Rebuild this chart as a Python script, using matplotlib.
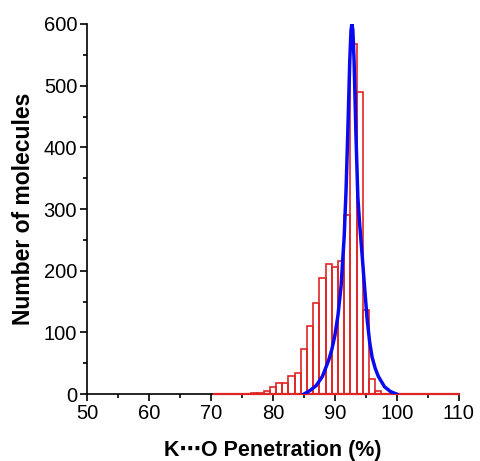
import matplotlib
matplotlib.use("Agg")
import matplotlib.pyplot as plt
from matplotlib.ticker import MultipleLocator

# histogram: bin centres (1 % wide bins) and counts
bin_centers = list(range(71, 111))
counts = [0, 0, 0, 0, 0, 0, 2, 2, 5, 12,
          18, 18, 30, 34, 73, 110, 147, 189, 211, 206,
          216, 290, 567, 490, 137, 24, 5, 1, 0, 0,
          0, 0, 0, 0, 0, 0, 0, 0, 0, 0]

# fitted peak curve
fit_x = [85, 86, 87, 88, 89, 89.5, 90, 90.5, 91, 91.5, 91.8, 92.1, 92.4, 92.6,
         92.75, 92.9, 93.1, 93.4, 93.7, 94.0, 94.4, 94.8, 95.2, 95.6, 96,
         96.5, 97, 98, 99, 100]
fit_y = [0, 6, 14, 29, 55, 72, 95, 128, 175, 255, 330, 430, 540, 590,
         600, 590, 540, 420, 320, 275, 225, 172, 122, 85, 60,
         42, 29, 12, 4, 0]

plt.rcParams['font.family'] = ['Liberation Sans', 'DejaVu Sans']

fig = plt.figure(figsize=(4.8, 4.61), dpi=100)
ax = fig.add_axes([0.181, 0.145, 0.775, 0.803])

red = "#e02525"
ax.bar(bin_centers, counts, width=1.0, fill=False, edgecolor=red,
       linewidth=1.2, zorder=3)
# empty bins show up as a flat red line along the baseline
ax.plot([bin_centers[0] - 0.5, min(bin_centers[-1] + 0.5, 110)], [0, 0],
        color=red, linewidth=1.6, zorder=5, clip_on=False)
ax.plot(fit_x, fit_y, color="#0a0af0", linewidth=2.5, zorder=6)

ax.set_xlim(50, 110)
ax.set_ylim(0, 600)
ax.spines["top"].set_visible(False)
ax.spines["right"].set_visible(False)
ax.xaxis.set_major_locator(MultipleLocator(10))
ax.xaxis.set_minor_locator(MultipleLocator(5))
ax.yaxis.set_major_locator(MultipleLocator(100))
ax.yaxis.set_minor_locator(MultipleLocator(50))
ax.tick_params(which="major", length=5, width=1.2, labelsize=14.5, pad=2)
ax.tick_params(which="minor", length=3, width=1.2)
for s in ax.spines.values():
    s.set_linewidth(1.2)

ax.set_xlabel("K\u22efO Penetration (%)", fontsize=15.5, fontweight="bold", labelpad=12)
ax.set_ylabel("Number of molecules", fontsize=16.5, fontweight="bold", labelpad=6)

plt.savefig("out.png", dpi=100)
